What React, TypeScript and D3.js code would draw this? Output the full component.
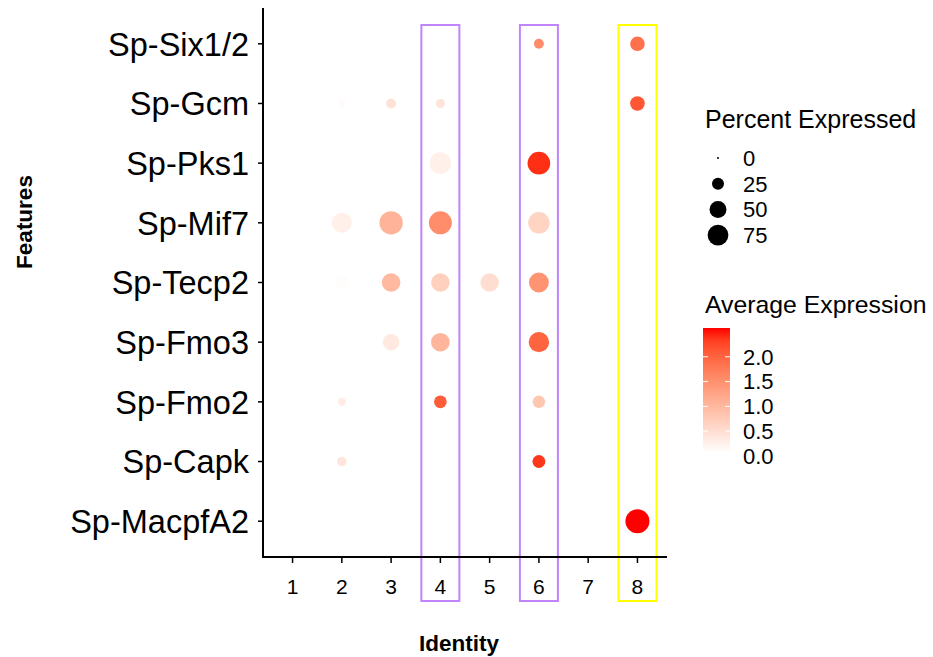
import React from 'react';
import * as d3 from 'd3';

// features top -> bottom, identities left -> right
const features = ['Sp-Six1/2', 'Sp-Gcm', 'Sp-Pks1', 'Sp-Mif7', 'Sp-Tecp2', 'Sp-Fmo3', 'Sp-Fmo2', 'Sp-Capk', 'Sp-MacpfA2'];
const identities = ['1', '2', '3', '4', '5', '6', '7', '8'];

// percent expressed, one row per feature (columns = identities)
const pctSix = [0, 0, 0, 0, 0, 17, 0, 37];
const pctGcm = [0, 11, 17, 15, 0, 0, 0, 37];
const pctPks = [0, 0, 0, 81, 0, 89, 0, 0];
const pctMif = [0, 69, 95, 92, 0, 80, 0, 0];
const pctTecp = [0, 34, 60, 60, 59, 69, 0, 0];
const pctFmo3 = [0, 0, 47, 60, 0, 72, 0, 0];
const pctFmo2 = [0, 12, 0, 28, 0, 27, 0, 0];
const pctCapk = [0, 16, 0, 0, 0, 29, 0, 0];
const pctMacpf = [0, 0, 0, 0, 0, 0, 0, 100];

// average expression
const expSix = [0, 0, 0, 0, 0, 1.54, 0, 1.86];
const expGcm = [0, 0.12, 0.46, 0.42, 0, 0, 0, 2.13];
const expPks = [0, 0, 0, 0.26, 0, 2.43, 0, 0];
const expMif = [0, 0.26, 1.06, 1.55, 0, 0.64, 0, 0];
const expTecp = [0, 0.09, 0.99, 0.69, 0.5, 1.46, 0, 0];
const expFmo3 = [0, 0, 0.35, 1.04, 0, 2.0, 0, 0];
const expFmo2 = [0, 0.31, 0, 2.08, 0, 0.82, 0, 0];
const expCapk = [0, 0.41, 0, 0, 0, 2.38, 0, 0];
const expMacpf = [0, 0, 0, 0, 0, 0, 0, 2.58];

const pctRows = [pctSix, pctGcm, pctPks, pctMif, pctTecp, pctFmo3, pctFmo2, pctCapk, pctMacpf];
const expRows = [expSix, expGcm, expPks, expMif, expTecp, expFmo3, expFmo2, expCapk, expMacpf];

const sizeBreaks = [0, 25, 50, 75];
const colorBreaks = [0.0, 0.5, 1.0, 1.5, 2.0];
const expRange = [0.06, 2.58];

// highlighted identity columns
const boxIds = ['4', '6', '8'];
const boxColors = ['#c084fc', '#c084fc', '#ffff00'];

const font = "'Liberation Sans', Arial, sans-serif";

export default function App() {
  const width = 933;
  const height = 657;
  const panel = { left: 263, right: 667, top: 8, bottom: 557 };

  // discrete scales with ggplot's 0.6 expansion
  const x = d3.scalePoint<string>()
    .domain(identities)
    .range([panel.left, panel.right])
    .padding(0.6);
  const y = d3.scalePoint<string>()
    .domain(features)
    .range([panel.top, panel.bottom])
    .padding(0.6);

  const r = d3.scaleSqrt().domain([0, 100]).range([0, 12]);
  const color = d3.scaleLinear<string>()
    .domain(expRange)
    .range(['white', 'red'])
    .interpolate(d3.interpolateLab)
    .clamp(true);

  const dots: { f: string; id: string; pct: number; exp: number }[] = [];
  features.forEach((f, i) => {
    identities.forEach((id, j) => {
      if (pctRows[i][j] > 0) dots.push({ f, id, pct: pctRows[i][j], exp: expRows[i][j] });
    });
  });

  // colourbar
  const bar = { x: 703, w: 27, top: 328, bottom: 453 };
  const barY = d3.scaleLinear().domain(expRange).range([bar.bottom, bar.top]);
  const stops = d3.range(0, 1.0001, 0.1);

  const boxHalf = 19;

  return (
    <svg width={width} height={height} style={{ position: 'absolute', left: 0, top: 0, background: 'white' }}>
      <defs>
        <linearGradient id="expGrad" x1="0" y1="1" x2="0" y2="0">
          {stops.map(t => (
            <stop key={t} offset={t} stopColor={color(expRange[0] + t * (expRange[1] - expRange[0]))} />
          ))}
        </linearGradient>
      </defs>

      {/* dots */}
      {dots.map(d => (
        <circle key={d.f + d.id} cx={x(d.id)} cy={y(d.f)} r={Math.max(1, r(d.pct))} fill={color(d.exp)} />
      ))}

      {/* highlight boxes */}
      {boxIds.map((id, i) => (
        <rect key={id} x={(x(id) as number) - boxHalf} y={25} width={boxHalf * 2} height={576}
          fill="none" stroke={boxColors[i]} strokeWidth={2} />
      ))}

      {/* axes */}
      <line x1={panel.left} x2={panel.left} y1={panel.top} y2={panel.bottom + 1} stroke="black" strokeWidth={2} />
      <line x1={panel.left - 1} x2={panel.right} y1={panel.bottom} y2={panel.bottom} stroke="black" strokeWidth={2} />

      {features.map(f => (
        <g key={f} transform={`translate(0,${y(f)})`}>
          <line x1={panel.left - 5} x2={panel.left} stroke="black" strokeWidth={1.5} />
          <text x={panel.left - 14} dy="0.36em" textAnchor="end" fontFamily={font} fontSize={32.5} fill="black">{f}</text>
        </g>
      ))}
      {identities.map(id => (
        <g key={id} transform={`translate(${x(id)},0)`}>
          <line y1={panel.bottom} y2={panel.bottom + 6} stroke="black" strokeWidth={1.5} />
          <text y={594} textAnchor="middle" fontFamily={font} fontSize={21} fill="black">{id}</text>
        </g>
      ))}

      <text x={459} y={651} textAnchor="middle" fontFamily={font} fontSize={22.5} fontWeight="bold">Identity</text>
      <text transform={`translate(32,222) rotate(-90)`} textAnchor="middle" fontFamily={font} fontSize={22.5} fontWeight="bold">Features</text>

      {/* size legend */}
      <text x={705} y={128} fontFamily={font} fontSize={25}>Percent Expressed</text>
      {sizeBreaks.map((b, i) => (
        <g key={b} transform={`translate(0,${158 + i * 25.7})`}>
          <circle cx={718} cy={0} r={Math.max(1, r(b))} fill="black" />
          <text x={743} dy="0.36em" fontFamily={font} fontSize={22}>{b}</text>
        </g>
      ))}

      {/* colour legend */}
      <text x={705} y={313} fontFamily={font} fontSize={24.8}>Average Expression</text>
      <rect x={bar.x} y={bar.top} width={bar.w} height={bar.bottom - bar.top} fill="url(#expGrad)" />
      {colorBreaks.map(b => (
        <g key={b} transform={`translate(0,${barY(b)})`}>
          {b >= expRange[0] && (
            <>
              <line x1={bar.x} x2={bar.x + 5} stroke="white" strokeWidth={1} />
              <line x1={bar.x + bar.w - 5} x2={bar.x + bar.w} stroke="white" strokeWidth={1} />
            </>
          )}
          <text x={743} dy="0.36em" fontFamily={font} fontSize={22}>{b.toFixed(1)}</text>
        </g>
      ))}
    </svg>
  );
}
